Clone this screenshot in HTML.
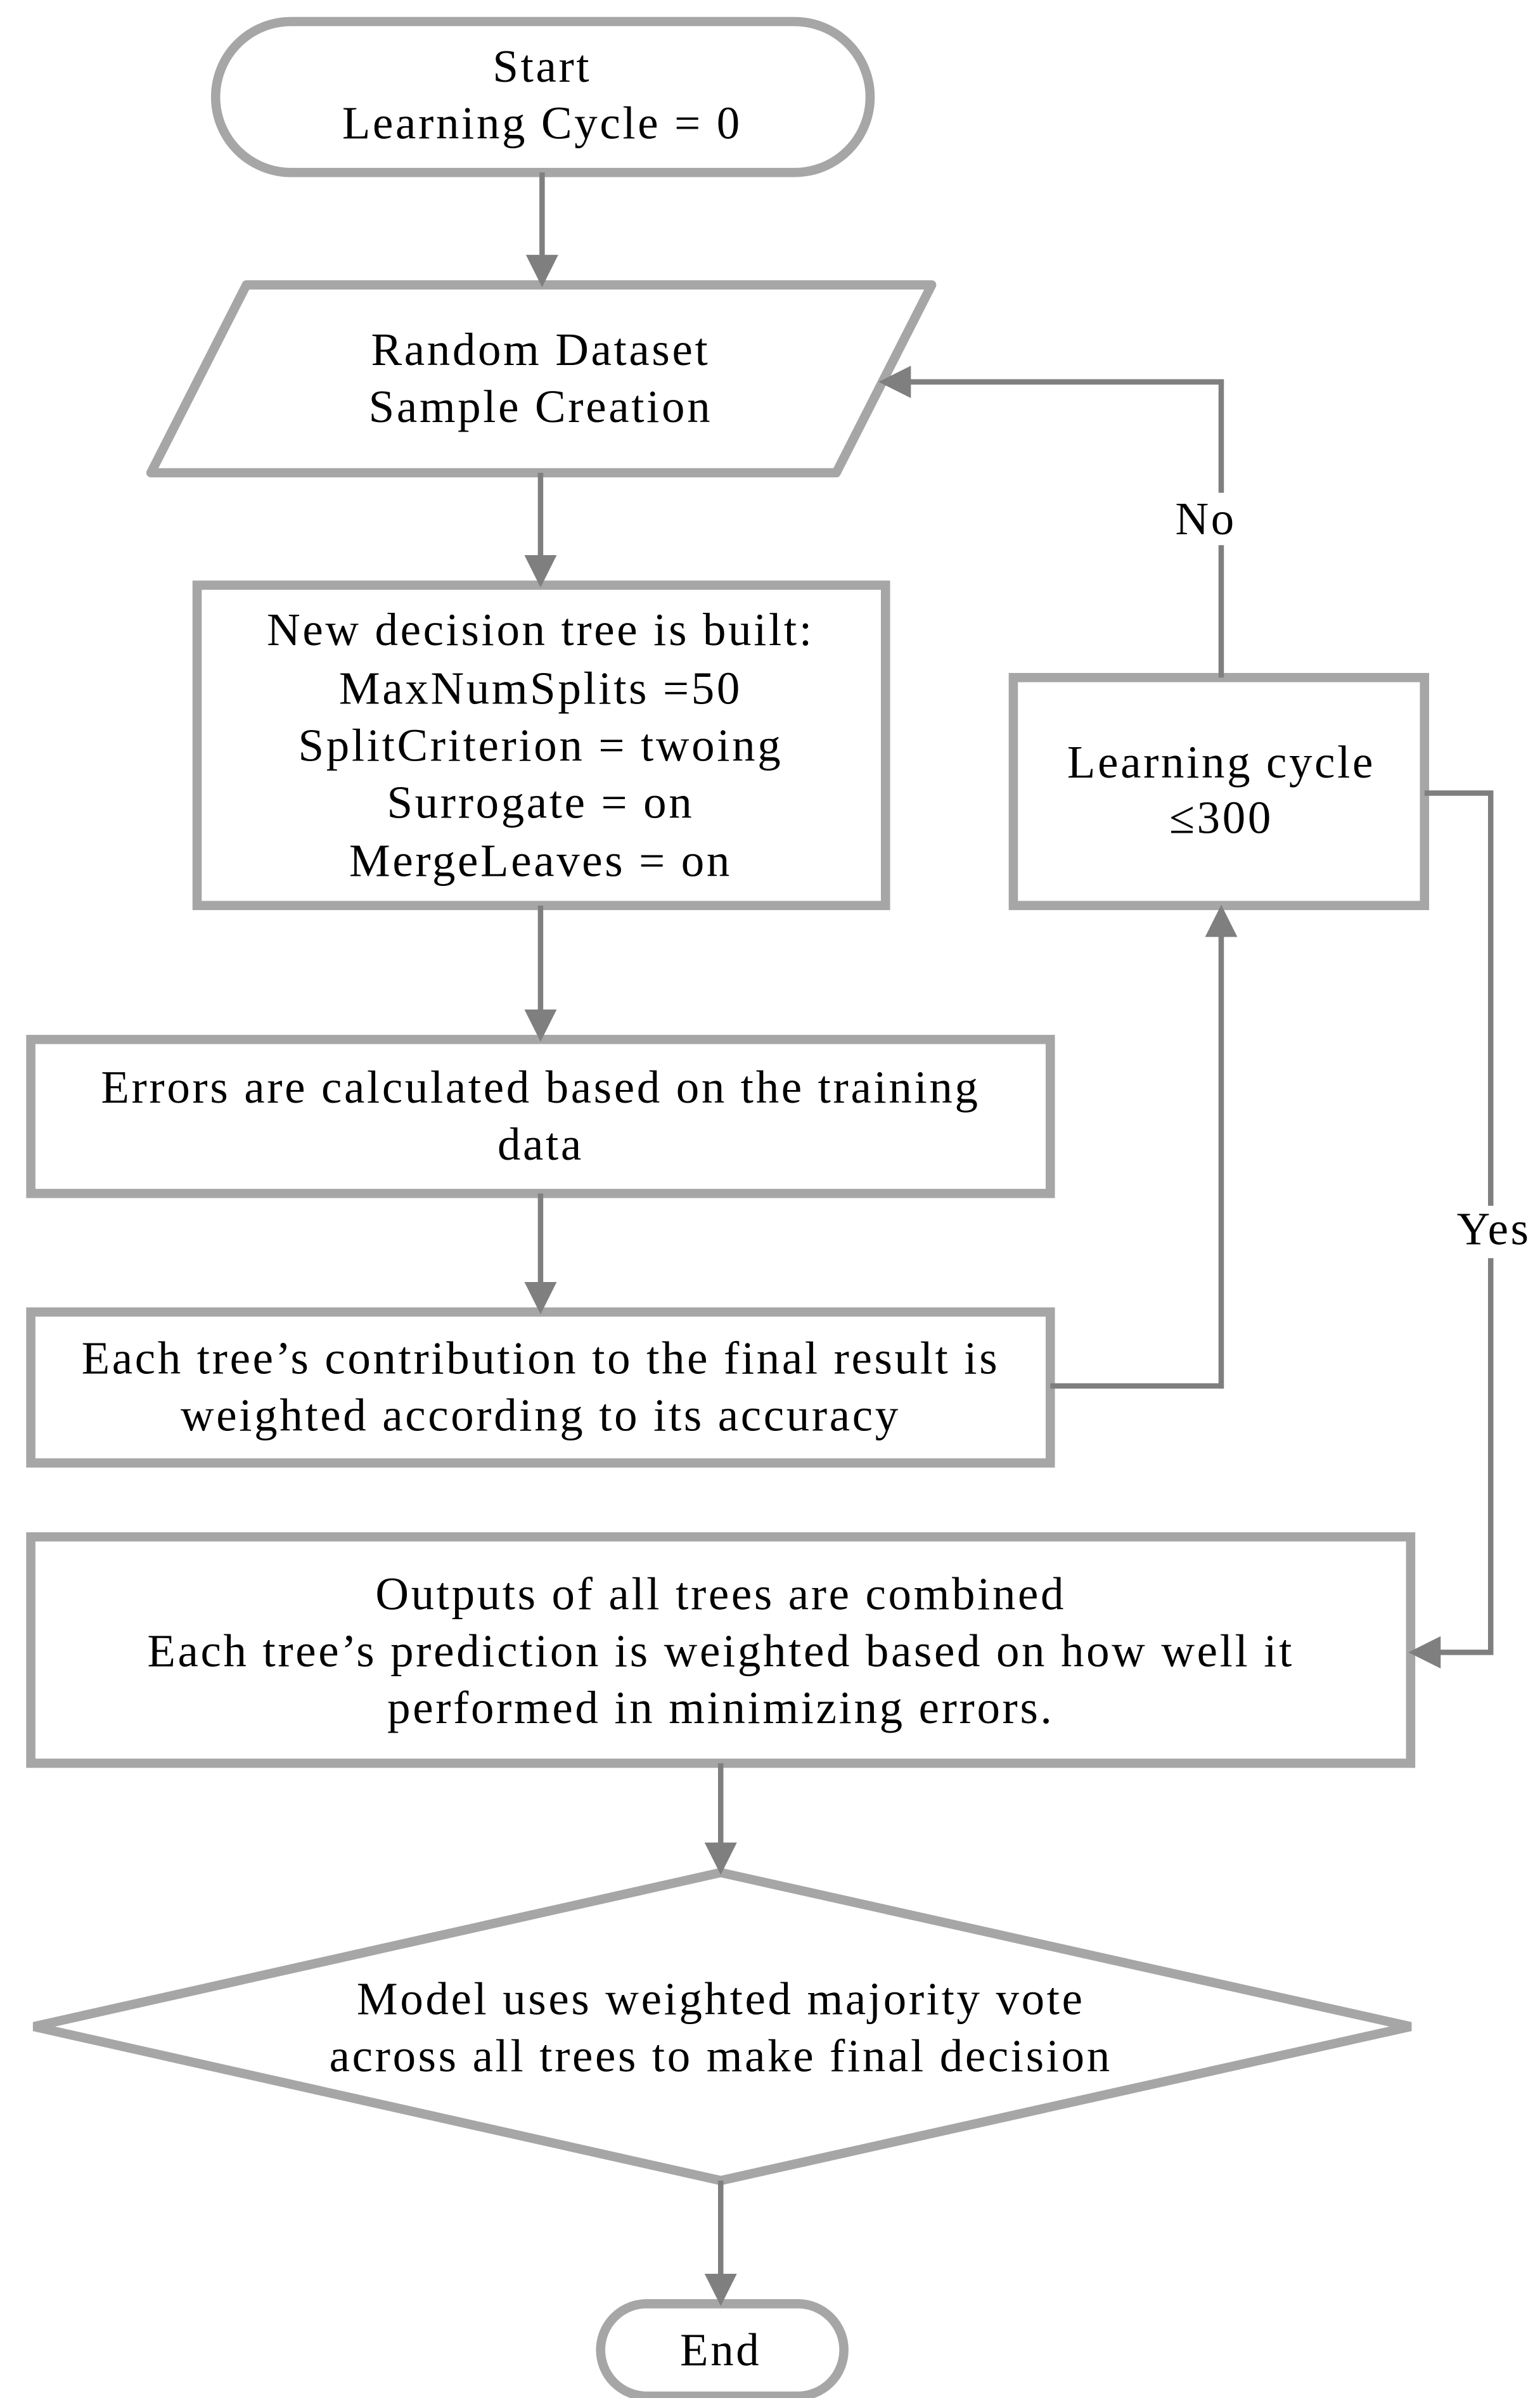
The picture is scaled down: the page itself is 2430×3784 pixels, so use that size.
<!DOCTYPE html>
<html><head><meta charset="utf-8"><style>html,body{margin:0;padding:0;background:#fff}svg{display:block}</style></head>
<body>
<svg width="2430" height="3784" viewBox="0 0 1000 1557.2" xmlns="http://www.w3.org/2000/svg">
<defs>
<marker id="a" markerWidth="6" markerHeight="6" refX="5" refY="3" orient="auto" markerUnits="strokeWidth">
<path d="M0,0 L6,3 L0,6 z" fill="#7f7f7f"/>
</marker>
</defs>
<g fill="none" stroke="#a6a6a6" stroke-width="6">
<rect x="140" y="14" width="425" height="98" rx="49"/>
<polygon points="160,185 605,185 543,307 98,307" stroke-linejoin="round"/>
<rect x="128" y="380" width="447" height="208"/>
<rect x="20" y="675" width="662" height="100"/>
<rect x="20" y="852" width="662" height="98"/>
<rect x="658" y="440" width="267" height="148"/>
<rect x="20" y="998" width="896" height="147"/>
<polygon points="468,1216 916,1316 468,1416 22,1316"/>
<rect x="390" y="1496" width="158" height="60" rx="30"/>
</g>
<g fill="none" stroke="#7f7f7f" stroke-width="3.5" marker-end="url(#a)">
<line x1="352" y1="112" x2="352" y2="183"/>
<line x1="351" y1="307" x2="351" y2="378"/>
<line x1="351" y1="588" x2="351" y2="673"/>
<line x1="351" y1="775" x2="351" y2="850"/>
<polyline points="682,900 793,900 793,591"/>
<polyline points="793,440 793,248 574,248"/>
<polyline points="925,515 968,515 968,1073 918,1073"/>
<line x1="468" y1="1145" x2="468" y2="1214"/>
<line x1="468" y1="1416" x2="468" y2="1494"/>
</g>
<rect x="760" y="320" width="48" height="34" fill="#fff"/>
<rect x="942" y="783" width="54" height="34" fill="#fff"/>
<g font-family="Liberation Serif, serif" font-size="30" letter-spacing="1.5" fill="#000" text-anchor="middle">
<text x="352" y="53">Start</text>
<text x="352" y="90">Learning Cycle = 0</text>
<text x="351" y="237">Random Dataset</text>
<text x="351" y="274">Sample Creation</text>
<text x="351" y="419">New decision tree is built:</text>
<text x="351" y="457">MaxNumSplits =50</text>
<text x="351" y="494">SplitCriterion = twoing</text>
<text x="351" y="531">Surrogate = on</text>
<text x="351" y="569">MergeLeaves = on</text>
<text x="351" y="716">Errors are calculated based on the training</text>
<text x="351" y="753">data</text>
<text x="351" y="892">Each tree’s contribution to the final result is</text>
<text x="351" y="929">weighted according to its accuracy</text>
<text x="793" y="505">Learning cycle</text>
<text x="793" y="541">≤300</text>
<text x="783" y="347">No</text>
<text x="970" y="808">Yes</text>
<text x="468" y="1045">Outputs of all trees are combined</text>
<text x="468" y="1082">Each tree’s prediction is weighted based on how well it</text>
<text x="468" y="1119">performed in minimizing errors.</text>
<text x="468" y="1308">Model uses weighted majority vote</text>
<text x="468" y="1345">across all trees to make final decision</text>
<text x="468" y="1536">End</text>
</g>
</svg>
</body></html>
